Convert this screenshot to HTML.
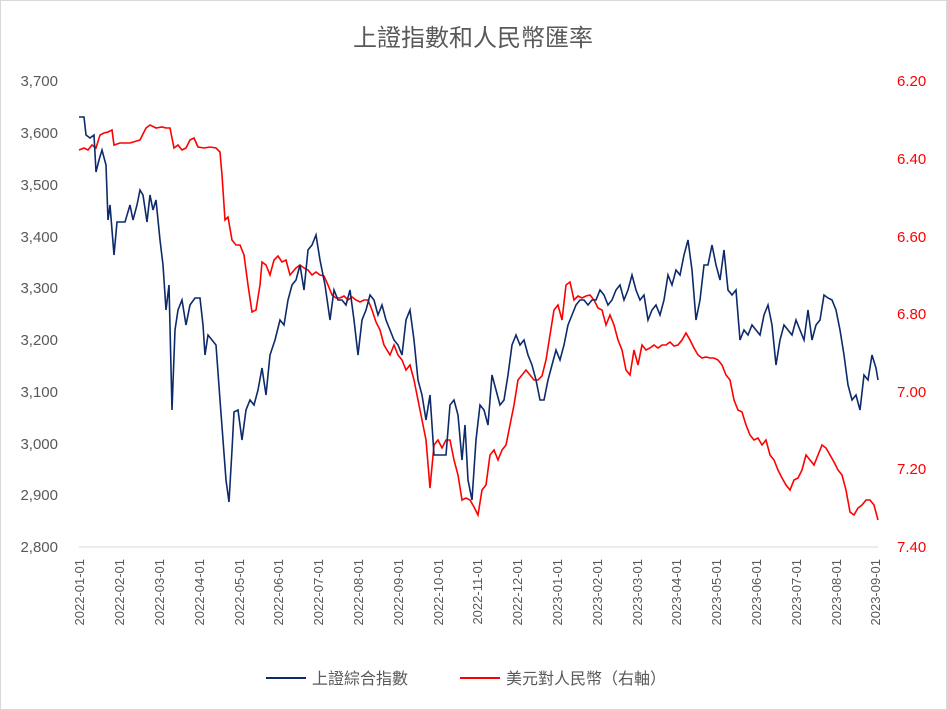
<!DOCTYPE html>
<html><head><meta charset="utf-8"><style>
html,body{margin:0;padding:0;background:#fff;}
svg{display:block;font-family:"Liberation Sans","Noto Sans CJK TC",sans-serif;}
</style></head><body>
<svg width="947" height="710" viewBox="0 0 947 710" xmlns="http://www.w3.org/2000/svg">
<rect x="0.5" y="0.5" width="946" height="709" fill="#fff" stroke="#d9d9d9"/>
<text x="473" y="46" text-anchor="middle" font-size="24" fill="#595959">上證指數和人民幣匯率</text>
<g font-size="15" fill="#595959" text-anchor="end">
<text x="58" y="86">3,700</text><text x="58" y="138">3,600</text><text x="58" y="190">3,500</text>
<text x="58" y="242">3,400</text><text x="58" y="293">3,300</text><text x="58" y="345">3,200</text>
<text x="58" y="397">3,100</text><text x="58" y="449">3,000</text><text x="58" y="500">2,900</text>
<text x="58" y="552">2,800</text>
</g>
<g font-size="15" fill="#ff0000" text-anchor="start">
<text x="897" y="86">6.20</text><text x="897" y="164">6.40</text><text x="897" y="242">6.60</text>
<text x="897" y="319">6.80</text><text x="897" y="397">7.00</text><text x="897" y="474">7.20</text>
<text x="897" y="552">7.40</text>
</g>
<line x1="79" y1="547" x2="878" y2="547" stroke="#d9d9d9"/>
<g font-size="13" fill="#595959" text-anchor="end" id="xl"></g>
<polyline fill="none" stroke="#ff0000" stroke-width="1.6" points="79,150 84,148 88,150 92,145 96,148 100,135 104,133 108,132 112,130 114,145 120,143 130,143 140,140 146,128 150,125 156,128 162,127 166,128 170,128 174,148 178,145 182,150 186,148 190,140 194,138 198,147 204,148 210,147 216,148 220,152 222,175 225,220 228,217 232,240 236,245 240,245 244,255 248,285 252,312 256,310 260,285 262,262 266,265 270,275 274,260 278,256 282,262 286,260 290,275 296,268 300,265 304,268 308,270 312,275 316,272 320,275 324,276 328,285 332,295 336,298 340,298 344,296 348,300 352,297 356,300 360,302 364,300 368,300 372,310 376,322 380,330 384,345 390,355 394,345 398,355 402,360 406,370 410,365 414,380 418,400 422,420 426,440 430,488 434,445 438,440 442,448 446,440 450,440 454,460 458,475 462,500 466,498 470,500 474,507 478,515 482,490 486,485 490,455 494,450 498,460 502,450 506,445 510,425 514,405 518,380 522,375 526,370 530,375 534,380 538,380 542,376 546,360 550,335 554,310 558,305 562,320 566,285 570,282 574,300 578,296 582,298 586,296 590,295 594,300 598,308 602,310 606,325 610,315 614,325 618,340 622,350 626,370 630,375 634,350 638,365 642,345 646,350 650,348 654,345 658,348 662,345 666,345 670,342 674,346 678,345 682,340 686,333 690,340 694,348 698,355 702,358 706,357 710,358 714,358 718,360 722,365 726,375 730,380 734,400 738,410 742,412 746,425 750,435 754,440 758,438 762,445 766,440 770,455 774,460 778,470 782,478 786,485 790,490 794,480 798,478 802,470 806,455 810,460 814,465 818,455 822,445 826,448 830,455 834,462 838,470 842,475 846,490 850,512 854,515 858,508 862,505 866,500 870,500 874,505 878,520"/>
<polyline fill="none" stroke="#0d2a6b" stroke-width="1.6" points="79,117 84,117 86,135 90,138 94,135 96,172 99,160 102,150 106,165 108,220 110,205 114,255 117,222 125,222 130,205 133,220 137,205 140,190 143,195 147,222 150,195 153,210 156,200 160,240 163,265 166,310 169,285 172,410 175,330 178,310 182,300 186,325 190,305 195,298 200,298 203,325 205,355 208,335 212,340 216,345 220,400 223,440 226,480 229,502 232,450 234,412 238,410 242,440 246,410 250,400 254,405 258,390 262,368 266,395 270,355 275,340 280,320 284,325 288,300 292,285 296,280 300,265 304,290 308,250 312,245 316,235 320,260 325,285 330,320 334,290 338,300 342,300 346,305 350,290 354,320 358,355 362,320 366,310 370,295 374,300 378,315 382,305 386,320 390,330 394,340 398,345 402,355 406,320 410,310 414,340 418,380 422,395 426,420 430,395 434,455 438,455 442,455 446,455 450,405 454,400 458,415 462,460 465,425 468,480 472,500 476,440 480,405 484,410 488,425 492,375 496,390 500,405 504,400 508,375 512,345 516,335 520,345 524,340 528,355 532,365 536,380 540,400 544,400 548,380 552,365 556,350 560,360 564,345 568,325 572,315 576,305 580,300 584,300 588,305 592,300 596,300 600,290 604,295 608,305 612,300 616,290 620,285 624,300 628,290 632,275 636,290 640,300 644,295 648,320 652,310 656,305 660,315 664,300 668,275 672,285 676,270 680,275 684,255 688,240 692,270 696,320 700,300 704,265 708,265 712,245 716,265 720,280 724,250 728,290 732,295 736,290 740,340 744,330 748,335 752,325 756,330 760,335 764,315 768,305 772,325 776,365 780,340 784,325 788,330 792,335 796,320 800,330 804,340 808,310 812,340 816,325 820,320 824,295 828,298 832,300 836,310 840,330 844,355 848,385 852,400 856,395 860,410 864,375 868,380 872,355 876,368 878,380"/>
<line x1="266" y1="678" x2="306" y2="678" stroke="#0d2a6b" stroke-width="2"/>
<text x="312" y="684" font-size="16" fill="#595959">上證綜合指數</text>
<line x1="460" y1="678" x2="500" y2="678" stroke="#ff0000" stroke-width="2"/>
<text x="506" y="684" font-size="16" fill="#595959">美元對人民幣（右軸）</text>
<g font-size="13" fill="#595959" text-anchor="end">
<text transform="translate(84,559) rotate(-90)">2022-01-01</text>
<text transform="translate(124,559) rotate(-90)">2022-02-01</text>
<text transform="translate(164,559) rotate(-90)">2022-03-01</text>
<text transform="translate(204,559) rotate(-90)">2022-04-01</text>
<text transform="translate(244,559) rotate(-90)">2022-05-01</text>
<text transform="translate(283,559) rotate(-90)">2022-06-01</text>
<text transform="translate(323,559) rotate(-90)">2022-07-01</text>
<text transform="translate(363,559) rotate(-90)">2022-08-01</text>
<text transform="translate(403,559) rotate(-90)">2022-09-01</text>
<text transform="translate(443,559) rotate(-90)">2022-10-01</text>
<text transform="translate(482,559) rotate(-90)">2022-11-01</text>
<text transform="translate(522,559) rotate(-90)">2022-12-01</text>
<text transform="translate(562,559) rotate(-90)">2023-01-01</text>
<text transform="translate(602,559) rotate(-90)">2023-02-01</text>
<text transform="translate(642,559) rotate(-90)">2023-03-01</text>
<text transform="translate(681,559) rotate(-90)">2023-04-01</text>
<text transform="translate(721,559) rotate(-90)">2023-05-01</text>
<text transform="translate(761,559) rotate(-90)">2023-06-01</text>
<text transform="translate(801,559) rotate(-90)">2023-07-01</text>
<text transform="translate(841,559) rotate(-90)">2023-08-01</text>
<text transform="translate(880,559) rotate(-90)">2023-09-01</text>
</g>
</svg>
</body></html>
